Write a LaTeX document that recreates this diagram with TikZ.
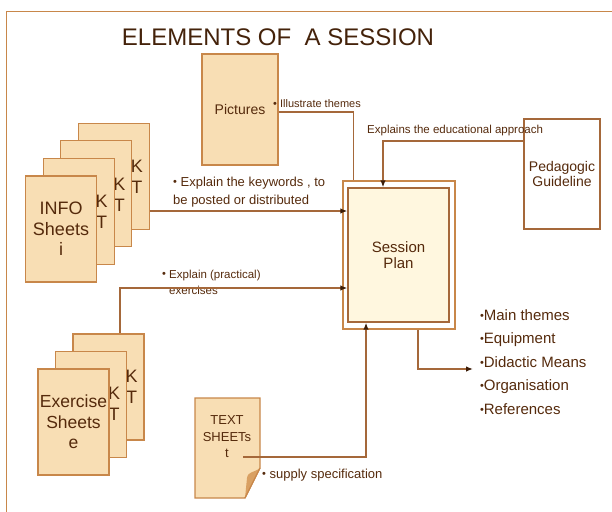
\documentclass[tikz,border=0pt]{standalone}
\usepackage{fontspec}
\setmainfont{Liberation Sans}
\usetikzlibrary{arrows.meta}

\definecolor{pagefill}{HTML}{F8DEB4}
\definecolor{pageline}{HTML}{C8874A}
\definecolor{wire}{HTML}{A5683A}
\definecolor{ink}{HTML}{552A0C}
\definecolor{planfill}{HTML}{FFF7DF}
\definecolor{foldfill}{HTML}{D9A062}

\newcommand\dotbul{\raisebox{0.08em}{\fontsize{11}{11}\selectfont•}}

\begin{document}
\begin{tikzpicture}[x=1pt, y=-1pt,
  page/.style={draw=pageline, fill=pagefill, line width=1.2pt, minimum width=71pt, minimum height=106pt, inner sep=0pt, text=ink, align=center},
  kt/.style={font=\fontsize{18}{21}\selectfont, text=ink, align=center, inner sep=0pt},
  note/.style={text=ink, align=left, inner sep=0pt, anchor=west},
  conn/.style={draw=wire, line width=1.3pt},
  arr/.style={conn, -{Latex[length=7pt, width=5.5pt, color=ink!70!black]}}]
  \useasboundingbox (0,0) rectangle (612,511);
  \draw[pageline, line width=1.5pt] (6.5,520) |- (620,11.5);

  \node[text=ink!80!black, font=\fontsize{24}{28}\selectfont] (title) at (278,37) {ELEMENTS OF \ A SESSION};

  % pictures
  \node[page, minimum width=76pt, minimum height=111pt, font=\fontsize{14}{16}\selectfont] (pic) at (240,109.5) {Pictures};
  \node[note, font=\fontsize{11}{13}\selectfont] (illus) at (273,104) {\dotbul\ Illustrate themes};

  % info sheets
  \foreach \i in {3,2,1} {
    \node[page] (info\i) at ({61+17.6*\i},{229-17.6*\i}) {};
    \node[kt] (ktinfo\i) at ([xshift=-13pt, yshift=-54.5pt]info\i.north east) {K\\T};
  }
  \node[page, font=\fontsize{18}{20.5}\selectfont] (info0) at (61,229) {INFO\\Sheets\\i};
  \node[note, font=\fontsize{13}{18}\selectfont] (keys) at (173,192) {\dotbul\ Explain the keywords , to\\be posted or distributed};

  % exercise sheets
  \foreach \i in {2,1} {
    \node[page] (ex\i) at ({73.5+17.5*\i},{422-17.5*\i}) {};
    \node[kt] (ktex\i) at ([xshift=-13pt, yshift=-53pt]ex\i.north east) {K\\T};
  }
  \node[page, font=\fontsize{17.5}{20.5}\selectfont] (ex0) at (73.5,422) {Exercise\\Sheets\\e};
  \node[note, font=\fontsize{11.5}{16}\selectfont] (exer) at (162,282) {\dotbul\ Explain (practical)\\\phantom{\dotbul\ }exercises};

  % text sheet with folded corner
  \draw[pageline, fill=pagefill, line width=1.2pt] (195,398) -- (260,398) -- (260,468) -- (245,498) -- (195,498) -- cycle;
  \fill[foldfill] (260,468) .. controls (254,473) and (248,471) .. (247,478) -- (245,498) -- cycle;
  \draw[pageline, line width=1.2pt] (260,468) -- (245,498);
  \node[text=ink, font=\fontsize{13}{16.5}\selectfont, align=center, inner sep=0pt] (txt) at (227,437) {TEXT\\SHEETs\\t};
  \coordinate (txtout) at (243,457);
  \node[note, font=\fontsize{13}{15}\selectfont] (supply) at (262,475) {\dotbul\ supply specification};

  % session plan
  \node[draw=pageline, line width=1.2pt, fill=white, minimum width=112pt, minimum height=148pt, inner sep=0pt] (plan) at (399,255) {};
  \node[draw=wire, line width=1.4pt, fill=planfill, minimum width=101pt, minimum height=134pt, inner sep=0pt, font=\fontsize{15}{15.5}\selectfont, text=ink, align=center] (planin) at (398.5,255) {Session\\Plan};

  % guideline
  \node[draw=wire, line width=1.2pt, fill=white, minimum width=76pt, minimum height=110pt, font=\fontsize{14}{14.5}\selectfont, text=ink, align=center] (guide) at (562,174) {Pedagogic\\Guideline};
  \node[note, font=\fontsize{11.5}{13}\selectfont] (appr) at (367,131) {Explains the educational approach};

  % contents
  \node[note, outer sep=7pt, font=\fontsize{15}{23.5}\selectfont] (list) at (473,362) {\dotbul Main themes\\\dotbul Equipment\\\dotbul Didactic Means\\\dotbul Organisation\\\dotbul References};

  % connectors
  \draw[conn] (pic.east |- 0,112) -| ([xshift=11pt]plan.north west);
  \draw[arr] (info3.east |- 0,211) -- (planin.west |- 0,211);
  \draw[arr] (ex2.north -| 120,0) |- (planin.west |- 0,288);
  \draw[arr] (txtout) -| (planin.south -| 366,0);
  \draw[arr] (guide.west |- 0,141) -| (planin.north -| 383,0);
  \draw[arr] (plan.south -| 418,0) |- (list.west |- 0,369);
\end{tikzpicture}
\end{document}
